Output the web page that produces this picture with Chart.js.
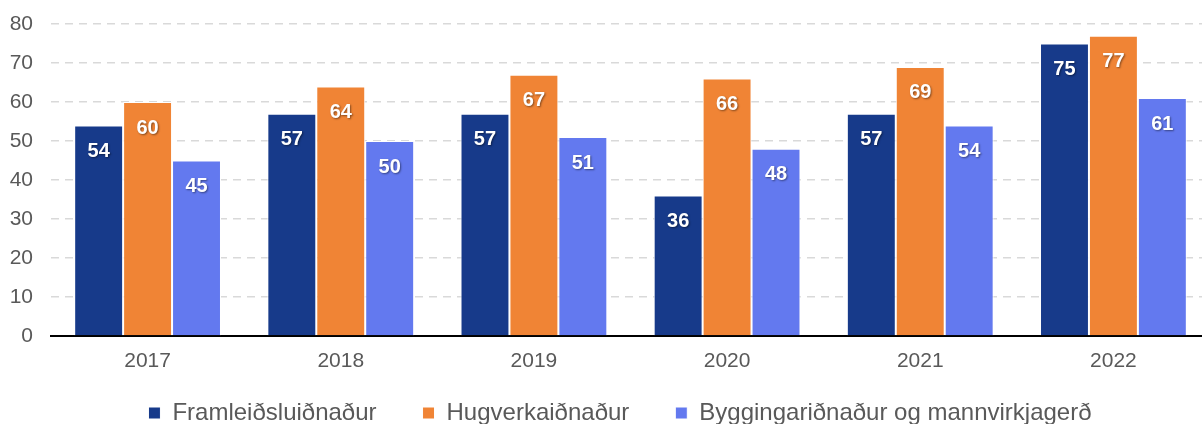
<!DOCTYPE html>
<html>
<head>
<meta charset="utf-8">
<script src="https://cdn.jsdelivr.net/npm/chart.js@4"></script>
<style>
  html, body { margin: 0; padding: 0; background: #fff; overflow: hidden; }
  #wrap { width: 1240px; height: 435px; }
</style>
</head>
<body>
<div id="wrap"><canvas id="chart"></canvas></div>
<script>
// Ár og gildi eftir greinum
const years = ['2017', '2018', '2019', '2020', '2021', '2022'];
const framleidsla = [54, 57, 57, 36, 57, 75];
const hugverk = [60, 64, 67, 66, 69, 77];
const bygging = [45, 50, 51, 48, 54, 61];
const seriesNames = ['Framleiðsluiðnaður', 'Hugverkaiðnaður', 'Byggingariðnaður og mannvirkjagerð'];
const colors = ['#173a8a', '#f08435', '#6379ef'];

const FONT = '"Liberation Sans", Arial, sans-serif';
const GAP = '\u00a0\u00a0\u00a0'; // extra room between legend items

// Value labels inside the top of each bar
const barLabels = {
  id: 'barLabels',
  afterDatasetsDraw(chart) {
    const ctx = chart.ctx;
    ctx.save();
    ctx.font = 'bold 20px ' + FONT;
    ctx.fillStyle = '#fff';
    ctx.textAlign = 'center';
    ctx.textBaseline = 'middle';
    ctx.shadowColor = 'rgba(0,0,0,0.45)';
    ctx.shadowOffsetX = 1;
    ctx.shadowOffsetY = 1;
    ctx.shadowBlur = 2;
    chart.data.datasets.forEach((ds, i) => {
      chart.getDatasetMeta(i).data.forEach((bar, j) => {
        ctx.fillText(ds.data[j], bar.x, bar.y + 26);
      });
    });
    ctx.restore();
  }
};

const datasets = [framleidsla, hugverk, bygging].map((d, i) => ({
  label: seriesNames[i],
  data: d,
  backgroundColor: colors[i],
  borderColor: '#ffffff',
  borderWidth: 1,
  categoryPercentage: 0.76,
  barPercentage: 1.0
}));

new Chart(document.getElementById('chart'), {
  type: 'bar',
  data: { labels: years, datasets },
  plugins: [barLabels],
  options: {
    responsive: true,
    maintainAspectRatio: false,
    animation: false,
    layout: { padding: { top: 24, right: 0, left: 0, bottom: 0 } },
    plugins: {
      tooltip: { enabled: false },
      legend: {
        position: 'bottom',
        labels: {
          boxWidth: 12,
          boxHeight: 12,
          padding: 26,
          color: '#595959',
          font: { size: 24, family: FONT },
          generateLabels: chart => Chart.defaults.plugins.legend.labels.generateLabels(chart)
            .map((item, i, all) => ({ ...item, text: i < all.length - 1 ? item.text + GAP : item.text }))
        }
      }
    },
    scales: {
      x: {
        afterFit: s => { s.height = 39; },
        grid: { display: false, drawTicks: false },
        border: { display: true, color: '#000', width: 2 },
        ticks: { color: '#595959', padding: 13, font: { size: 21, family: FONT } }
      },
      y: {
        min: 0,
        max: 80,
        afterFit: s => { s.width = 51; s.paddingTop = 0; s.paddingBottom = 0; },
        border: { display: false, dash: [8, 6] },
        grid: {
          color: c => (c.tick.value === 0 ? 'rgba(0,0,0,0)' : '#d9d9d9'),
          lineWidth: 1.5,
          drawTicks: false
        },
        ticks: {
          stepSize: 10,
          color: '#595959',
          padding: 18,
          font: { size: 21, family: FONT }
        }
      },
      // empty strip on the right so the plot runs past the window edge
      yRight: {
        position: 'right',
        afterFit: s => { s.width = 30; },
        grid: { display: false },
        border: { display: false },
        ticks: { display: false }
      }
    }
  }
});
</script>
</body>
</html>
